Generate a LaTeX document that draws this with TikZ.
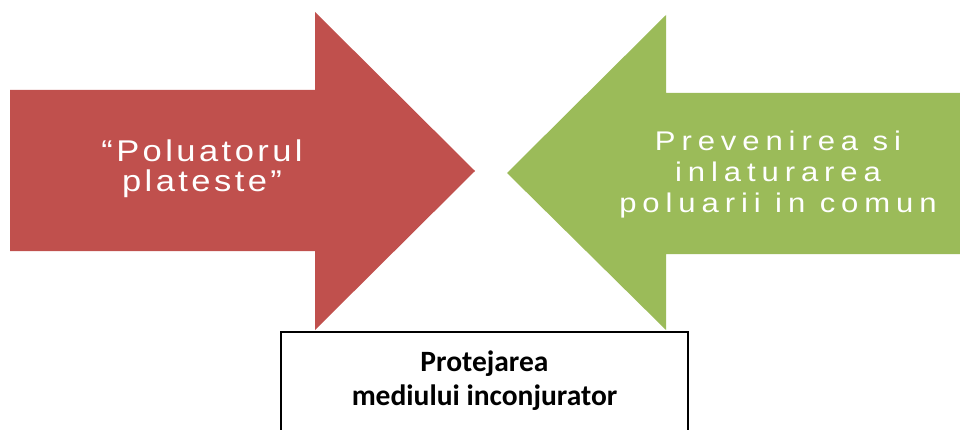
\documentclass[tikz,border=0pt]{standalone}
\usepackage{graphicx}
\usepackage{fontspec}
\setmainfont{Liberation Sans}
\newfontfamily\goalfont{Carlito}
\newfontfamily\widefont[LetterSpace=10]{Liberation Sans}
\newfontfamily\widerfont[LetterSpace=19]{Liberation Sans}
\newcommand{\stretched}[1]{\scalebox{1.15}[1]{\begin{tabular}[b]{@{}c@{}}#1\end{tabular}}}

\definecolor{polred}{HTML}{C0504D}
\definecolor{prevgreen}{HTML}{9BBB59}

\tikzset{
	arrowtext/.style={text=white,inner sep=0pt,anchor=base},
	goalbox/.style={draw=black,line width=1.6pt,fill=white,minimum width=407pt,minimum height=140pt,anchor=north},
}

\begin{document}
\begin{tikzpicture}[x=1pt,y=-1pt]
	\useasboundingbox (0,0) rectangle (960,430);

	\coordinate (RedTail)  at (10,171);
	\coordinate (RedTip)   at (475,171);
	\coordinate (GreenTail) at (960,173);
	\coordinate (GreenTip) at (507,173);

	% left arrow
	\fill[polred] (RedTail) ++(0,-81) -- (315,90) -- (315,12) -- (RedTip) -- (315,330) -- (315,251) -- (10,251) -- cycle;
	\node[arrowtext,font={\fontsize{30}{28}\widefont\selectfont}] (polluter) at (202,192)
		{\stretched{“Poluatorul\\ plateste”}};

	% right arrow
	\fill[prevgreen] (GreenTail) ++(0,-80) -- (666,93) -- (666,15) -- (GreenTip) -- (666,330) -- (666,254) -- (960,254) -- cycle;
	\node[arrowtext,font={\fontsize{27}{31}\widerfont\selectfont}] (prevent) at (778,213)
		{\stretched{Prevenirea si\\ inlaturarea\\ poluarii in comun}};

	% box below
	\node[goalbox] (goal) at (484.5,331) {};
	\node[align=center,inner sep=0pt,anchor=base,font={\goalfont\bfseries\fontsize{29.5}{34}\selectfont}] (goaltext) at (484.5,405)
		{Protejarea\\ mediului inconjurator};
\end{tikzpicture}
\end{document}
